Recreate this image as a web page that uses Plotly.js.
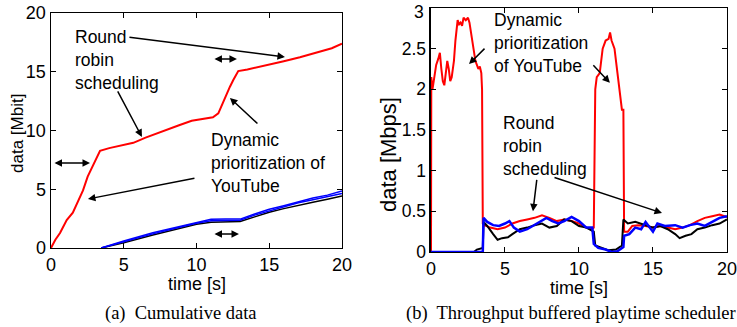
<!DOCTYPE html>
<html>
<head>
<meta charset="utf-8">
<script src="https://cdn.plot.ly/plotly-3.0.1.min.js"></script>
<style>html,body{margin:0;padding:0;background:#fff;}#chart{width:737px;height:327px;}</style>
</head>
<body>
<div id="chart"></div>
<script>
// ---- (a) Cumulative data [Mbit] ----
const cumRedT = [0,0.3,0.62,0.9,1.08,1.5,1.88,2.2,2.52,2.9,3.37,4,5,5.66,6.5,7.2,7.95,8.8,9.67,10.4,11.13,11.5,11.89,12.3,12.53,12.87,13.5,14.82,16,17.11,18.49,19.3,20];
const cumRedY = [0,0.7,1.27,1.9,2.38,3.0,4.08,4.9,6.07,7.1,8.28,8.5,8.8,8.95,9.4,9.7,10.04,10.45,10.83,11.0,11.12,11.46,12.6,13.73,14.3,15.06,15.2,15.55,15.9,16.23,16.7,17.0,17.4];
const cumT = [3.45,5,7,9,10,11,12,13,14,15,16,17,18,19,20];
const cumBlue1 = [0,0.6,1.3,1.9,2.2,2.44,2.46,2.46,2.9,3.3,3.6,3.95,4.25,4.5,4.85];
const cumBlue2 = [0,0.55,1.2,1.8,2.1,2.32,2.35,2.36,2.8,3.15,3.5,3.85,4.1,4.35,4.65];
const cumBlack = [0,0.45,1.1,1.7,2.02,2.2,2.25,2.25,2.65,3.05,3.35,3.65,3.9,4.15,4.42];

// ---- (b) Throughput [Mbps] ----
const thrRedT = [0,0.02,0.1,0.2,0.35,0.5,0.6,0.7,0.8,0.9,1.0,1.1,1.2,1.3,1.4,1.55,1.65,1.8,1.9,2.0,2.1,2.2,2.35,2.5,2.6,2.7,2.8,2.9,3.0,3.1,3.2,3.3,3.4,3.45,3.5,3.6,4,4.5,5,5.5,6,6.5,7,7.5,8,8.5,9,9.5,10,10.5,10.9,11.0,11.05,11.1,11.2,11.4,11.6,11.8,12.0,12.1,12.2,12.4,12.6,12.8,12.9,13.0,13.05,13.3,13.6,14,14.5,15,15.5,16,16.5,17,17.5,18,18.5,19,19.5,20];
const thrRed = [0,2.15,2.0,2.1,2.3,2.38,2.45,2.25,2.1,2.05,2.2,2.35,2.25,2.1,2.15,2.35,2.6,2.85,2.8,2.82,2.78,2.88,2.85,2.88,2.82,2.7,2.6,2.45,2.35,2.3,2.25,2.28,2.2,2.0,0.35,0.33,0.3,0.28,0.3,0.35,0.38,0.4,0.42,0.45,0.42,0.38,0.4,0.38,0.35,0.3,0.28,0.3,1.5,2.0,2.15,2.2,2.5,2.6,2.62,2.7,2.6,2.5,2.2,1.85,1.75,1.75,0.25,0.25,0.32,0.33,0.32,0.3,0.32,0.3,0.28,0.3,0.33,0.38,0.42,0.44,0.46,0.43];
const thrBlackT = [0,2.9,3.1,3.4,3.5,3.55,3.8,4.2,4.5,4.8,5.2,5.5,6,6.5,7,7.5,8,8.5,9,9.5,10,10.5,11,11.1,11.5,12,12.5,12.9,13,13.3,13.8,14.5,15,15.5,16,16.5,16.8,17.2,17.6,18,18.5,19,19.5,20];
const thrBlack = [0,0,0.03,0.05,0.05,0.37,0.32,0.22,0.15,0.17,0.18,0.22,0.28,0.3,0.33,0.35,0.3,0.32,0.4,0.38,0.32,0.3,0.25,0.08,0.05,0.02,0.03,0.08,0.4,0.35,0.37,0.33,0.3,0.32,0.28,0.22,0.17,0.2,0.22,0.28,0.3,0.33,0.35,0.4];
const thrBlueT = [0,3.5,3.55,3.8,4.2,4.6,5,5.3,5.6,6,6.5,7,7.5,7.8,8.2,8.6,9,9.5,10,10.5,10.9,11,11.3,11.8,12.2,12.6,13,13.05,13.4,13.8,14.2,14.5,15,15.3,15.8,16.5,17,17.5,18,18.5,19,19.5,20];
const thrBlue = [0,0,0.42,0.37,0.33,0.32,0.35,0.38,0.3,0.25,0.28,0.33,0.38,0.42,0.38,0.35,0.38,0.43,0.38,0.3,0.3,0.1,0.05,0.03,0,0.01,0.06,0.2,0.22,0.3,0.28,0.37,0.25,0.35,0.32,0.33,0.3,0.33,0.35,0.32,0.37,0.42,0.44];

const xTicks = [0,5,10,15,20];
const yTicksA = [0,5,10,15,20];
const yTicksB = [0,0.5,1,1.5,2,2.5,3];
const yTickTextB = ['0','0.5','1','1.5','2','2.5','3'];

const F = 'Liberation Sans, Arial, sans-serif';
const SERIF = 'Liberation Serif, Times New Roman, serif';
const RED = '#ff0000', BLUE = '#0000ff', BLACK = '#000000';

const traces = [
  {x: cumT, y: cumBlack, xaxis:'x', yaxis:'y', mode:'lines', line:{color:BLACK, width:1.5}},
  {x: cumT, y: cumBlue2, xaxis:'x', yaxis:'y', mode:'lines', line:{color:BLUE, width:1.5}},
  {x: cumT, y: cumBlue1, xaxis:'x', yaxis:'y', mode:'lines', line:{color:BLUE, width:1.5}},
  {x: cumRedT, y: cumRedY, xaxis:'x', yaxis:'y', mode:'lines', line:{color:RED, width:2}},
  {x: thrRedT, y: thrRed, xaxis:'x2', yaxis:'y2', mode:'lines', line:{color:RED, width:2}},
  {x: thrBlackT, y: thrBlack, xaxis:'x2', yaxis:'y2', mode:'lines', line:{color:BLACK, width:2}},
  {x: thrBlueT, y: thrBlue, xaxis:'x2', yaxis:'y2', mode:'lines', line:{color:BLUE, width:2.5}}
];

const axBase = {
  showline:true, linecolor:'#000', linewidth:1.5, mirror:'ticks',
  ticks:'inside', ticklen:5, tickwidth:1, tickcolor:'#000', ticklabeloverflow:'allow',
  showgrid:false, zeroline:false, tickfont:{family:F, size:18, color:'#000'}
};

function arrow(xref, yref, x, y, ax, ay, both) {
  return {xref, yref, x, y, ax, ay, text:'', showarrow:true, arrowhead:2, arrowsize:1,
          arrowwidth:1.5, arrowcolor:'#000', arrowside: both ? 'end+start' : 'end', startarrowhead:2};
}
function label(xref, yref, x, y, text) {
  return {xref, yref, x, y, text, showarrow:false, xanchor:'left', yanchor:'middle', align:'left',
          font:{family:F, size:17.5, color:'#000'}};
}
function pLabel(px, py, text, size, angle, family, anchor) {
  return {xref:'paper', yref:'paper', x:px/737, y:1-py/327, text, showarrow:false,
          xanchor:anchor||'center', yanchor:'middle', textangle:angle||0,
          font:{family:family||F, size, color:'#000'}};
}

// top tick label of panel (b) is drawn as a text just inside the page (as in the reference)
const lastB = yTickTextB.length - 1;
const tickTextB = yTickTextB.map((t, i) => i === lastB ? '' : t);

const layout = {
  width:737, height:327, margin:{l:0,r:0,t:0,b:0},
  paper_bgcolor:'#fff', plot_bgcolor:'#fff', showlegend:false,
  xaxis: Object.assign({}, axBase, {domain:[0.0692,0.4640], range:[0,20], tickvals:xTicks, anchor:'y'}),
  yaxis: Object.assign({}, axBase, {domain:[0.2416,0.9602], range:[0,20], tickvals:yTicksA, anchor:'x'}),
  xaxis2: Object.assign({}, axBase, {domain:[0.5848,0.9864], range:[0,20], tickvals:xTicks, anchor:'y2'}),
  yaxis2: Object.assign({}, axBase, {domain:[0.2294,0.9755], range:[0,3], tickvals:yTicksB, ticktext:tickTextB, anchor:'x2',
          tickfont:{family:F, size:17.5, color:'#000'}}),
  annotations: [
    pLabel(426, 11.5, yTickTextB[lastB], 17.5, 0, F, 'right'),
    pLabel(197, 284, 'time [s]', 18),
    pLabel(17, 134, 'data [Mbit]', 17, -90),
    pLabel(579, 288, 'time [s]', 18),
    pLabel(388, 155, 'data [Mbps]', 22, -90),
    label('x','y',1.51,15.96,'Round<br>robin<br>scheduling'),
    label('x','y',10.86,7.23,'Dynamic<br>prioritization of<br>YouTube'),
    arrow('x','y',16.08,16.26,-157,-20,false),
    arrow('x','y',6.25,9.45,-25,-47,false),
    arrow('x','y',2.68,7.23,-37,0,true),
    arrow('x','y',12.78,16.09,-24,0,true),
    arrow('x','y',12.92,1.19,-26,0,true),
    arrow('x','y',12.30,12.77,29,27,false),
    arrow('x','y',2.54,4.17,108,-21,false),
    label('x2','y2',4.15,2.564,'Dynamic<br>prioritization<br>of YouTube'),
    label('x2','y2',4.7,1.303,'Round<br>robin<br>scheduling'),
    arrow('x2','y2',2.57,2.31,17,-17,false),
    arrow('x2','y2',12.09,2.08,-18,-19,false),
    arrow('x2','y2',6.89,0.50,4,-33,false),
    arrow('x2','y2',15.61,0.48,-109,-36,false),
    pLabel(181, 313, '(a)  Cumulative data', 18.5, 0, SERIF),
    pLabel(571, 313, '(b)  Throughput buffered playtime scheduler', 18.5, 0, SERIF)
  ]
};

Plotly.newPlot('chart', traces, layout, {staticPlot:true, displayModeBar:false});
</script>
</body>
</html>
